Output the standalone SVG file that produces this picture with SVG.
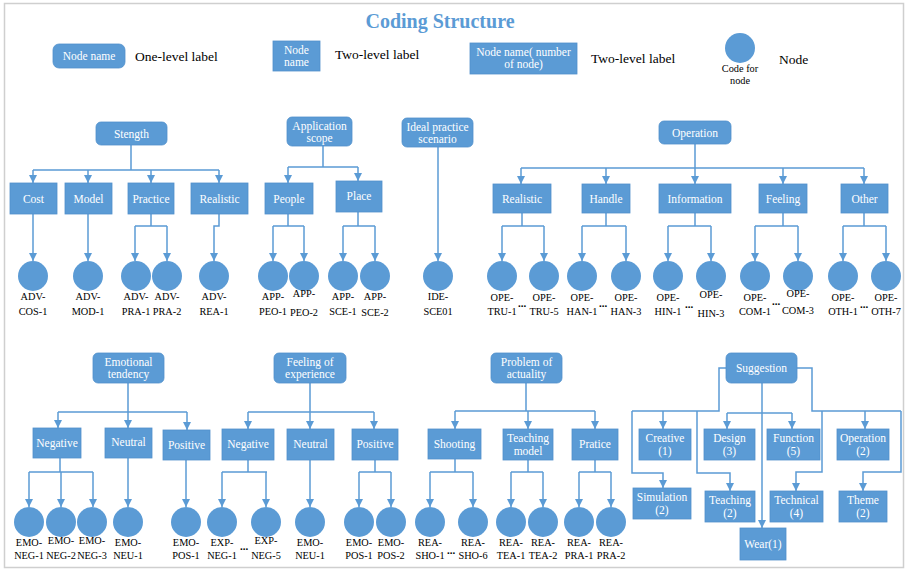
<svg xmlns="http://www.w3.org/2000/svg" width="906" height="573" viewBox="0 0 906 573" font-family="'Liberation Serif', serif">
<style>
.bx{fill:#5b9bd5;stroke:#5290cb;stroke-width:0.8}
.nd{fill:#5b9bd5}
.ln{fill:none;stroke:#5b9bd5;stroke-width:1.5}
.bt{font-family:'Liberation Serif',serif;font-size:11.5px;fill:#ffffff;text-anchor:middle}
.cl{font-family:'Liberation Serif',serif;font-size:10.3px;fill:#000000;text-anchor:middle}
.lg{font-family:'Liberation Serif',serif;font-size:13.5px;fill:#000000}
.dt{font-family:'Liberation Serif',serif;font-size:11px;font-weight:bold;fill:#000000;text-anchor:middle}
</style>
<defs>
<marker id="ah" markerWidth="8" markerHeight="8" refX="8" refY="4" orient="auto" markerUnits="userSpaceOnUse">
<path d="M0,0 L8,4 L0,8 z" fill="#5b9bd5"/>
</marker>
</defs>
<rect x="0" y="0" width="906" height="573" fill="#ffffff"/>
<rect x="4.5" y="3.5" width="899" height="564" fill="#ffffff" stroke="#cfcfcf" stroke-width="1.5"/>
<text x="440" y="28" font-family="'Liberation Serif', serif" font-size="20" font-weight="bold" fill="#5b9bd5" text-anchor="middle">Coding Structure</text>

<g id="legend">
<rect class="bx" x="53" y="44" width="72" height="24" rx="6"/>
<text class="bt" x="89" y="60">Node name</text>
<text class="lg" x="135" y="61">One-level label</text>
<rect class="bx" x="273" y="41" width="47" height="30"/>
<text class="bt" x="296.5" y="54">Node</text>
<text class="bt" x="296.5" y="66">name</text>
<text class="lg" x="335" y="59">Two-level label</text>
<rect class="bx" x="470" y="43" width="107" height="31"/>
<text class="bt" x="523.5" y="56">Node name( number</text>
<text class="bt" x="523.5" y="68">of node)</text>
<text class="lg" x="591" y="63">Two-level label</text>
<circle class="nd" cx="740" cy="48" r="15"/>
<text class="cl" x="740" y="72" font-size="10">Code for</text>
<text class="cl" x="740" y="84" font-size="10">node</text>
<text class="lg" x="779" y="64">Node</text>
</g>

<g id="connectors">
<path class="ln" d="M131,145 V170 M33,170 H219"/>
<path class="ln" d="M33,170 V183" marker-end="url(#ah)"/>
<path class="ln" d="M88,170 V183" marker-end="url(#ah)"/>
<path class="ln" d="M151,170 V183" marker-end="url(#ah)"/>
<path class="ln" d="M219,170 V183" marker-end="url(#ah)"/>
<path class="ln" d="M33,214 V261" marker-end="url(#ah)"/>
<path class="ln" d="M88,214 V261" marker-end="url(#ah)"/>
<path class="ln" d="M151,214 V226 M135,226 H167"/>
<path class="ln" d="M135,226 V261" marker-end="url(#ah)"/>
<path class="ln" d="M167,226 V261" marker-end="url(#ah)"/>
<path class="ln" d="M219,214 V226 H214 V261" marker-end="url(#ah)"/>
<path class="ln" d="M323,146 V167 M288,167 H358"/>
<path class="ln" d="M288,167 V183" marker-end="url(#ah)"/>
<path class="ln" d="M358,167 V181" marker-end="url(#ah)"/>
<path class="ln" d="M288,214 V226 M273,226 H304"/>
<path class="ln" d="M273,226 V261" marker-end="url(#ah)"/>
<path class="ln" d="M304,226 V261" marker-end="url(#ah)"/>
<path class="ln" d="M358,212 V226 M343,226 H375"/>
<path class="ln" d="M343,226 V261" marker-end="url(#ah)"/>
<path class="ln" d="M375,226 V261" marker-end="url(#ah)"/>
<path class="ln" d="M438,147 V261" marker-end="url(#ah)"/>
<path class="ln" d="M695,144 V168 M521,168 H864"/>
<path class="ln" d="M521,168 V184" marker-end="url(#ah)"/>
<path class="ln" d="M606,168 V184" marker-end="url(#ah)"/>
<path class="ln" d="M695,168 V184" marker-end="url(#ah)"/>
<path class="ln" d="M783,168 V184" marker-end="url(#ah)"/>
<path class="ln" d="M864,168 V184" marker-end="url(#ah)"/>
<path class="ln" d="M522,213 V226 M502,226 H544"/>
<path class="ln" d="M502,226 V261" marker-end="url(#ah)"/>
<path class="ln" d="M544,226 V261" marker-end="url(#ah)"/>
<path class="ln" d="M606,213 V226 M582,226 H626"/>
<path class="ln" d="M582,226 V261" marker-end="url(#ah)"/>
<path class="ln" d="M626,226 V261" marker-end="url(#ah)"/>
<path class="ln" d="M695,213 V226 M668,226 H711"/>
<path class="ln" d="M668,226 V261" marker-end="url(#ah)"/>
<path class="ln" d="M711,226 V261" marker-end="url(#ah)"/>
<path class="ln" d="M783,213 V226 M755,226 H798"/>
<path class="ln" d="M755,226 V261" marker-end="url(#ah)"/>
<path class="ln" d="M798,226 V261" marker-end="url(#ah)"/>
<path class="ln" d="M864,213 V226 M843,226 H886"/>
<path class="ln" d="M843,226 V261" marker-end="url(#ah)"/>
<path class="ln" d="M886,226 V261" marker-end="url(#ah)"/>
<path class="ln" d="M128,383 V412 M58,412 H187"/>
<path class="ln" d="M58,412 V428" marker-end="url(#ah)"/>
<path class="ln" d="M128,412 V428" marker-end="url(#ah)"/>
<path class="ln" d="M187,412 V430" marker-end="url(#ah)"/>
<path class="ln" d="M60,458 V472 M29,472 H93"/>
<path class="ln" d="M29,472 V507" marker-end="url(#ah)"/>
<path class="ln" d="M61,472 V507" marker-end="url(#ah)"/>
<path class="ln" d="M93,472 V507" marker-end="url(#ah)"/>
<path class="ln" d="M128,458 V507" marker-end="url(#ah)"/>
<path class="ln" d="M186,460 V507" marker-end="url(#ah)"/>
<path class="ln" d="M310,383 V412 M248,412 H374"/>
<path class="ln" d="M248,412 V429" marker-end="url(#ah)"/>
<path class="ln" d="M310,412 V429" marker-end="url(#ah)"/>
<path class="ln" d="M374,412 V429" marker-end="url(#ah)"/>
<path class="ln" d="M248,460 V472 M222,472 H267"/>
<path class="ln" d="M222,472 V507" marker-end="url(#ah)"/>
<path class="ln" d="M266,472 V507" marker-end="url(#ah)"/>
<path class="ln" d="M310,460 V507" marker-end="url(#ah)"/>
<path class="ln" d="M375,460 V472 M359,472 H391"/>
<path class="ln" d="M359,472 V507" marker-end="url(#ah)"/>
<path class="ln" d="M391,472 V507" marker-end="url(#ah)"/>
<path class="ln" d="M526,383 V411 M455,411 H595"/>
<path class="ln" d="M455,411 V429" marker-end="url(#ah)"/>
<path class="ln" d="M528,411 V429" marker-end="url(#ah)"/>
<path class="ln" d="M595,411 V429" marker-end="url(#ah)"/>
<path class="ln" d="M455,459 V472 M430,472 H473"/>
<path class="ln" d="M430,472 V507" marker-end="url(#ah)"/>
<path class="ln" d="M473,472 V507" marker-end="url(#ah)"/>
<path class="ln" d="M528,460 V472 M511,472 H543"/>
<path class="ln" d="M511,472 V507" marker-end="url(#ah)"/>
<path class="ln" d="M543,472 V507" marker-end="url(#ah)"/>
<path class="ln" d="M595,460 V472 M579,472 H611"/>
<path class="ln" d="M579,472 V507" marker-end="url(#ah)"/>
<path class="ln" d="M611,472 V507" marker-end="url(#ah)"/>
<path class="ln" d="M726,368 H719 V411 H632"/>
<path class="ln" d="M663,411 V429" marker-end="url(#ah)"/>
<path class="ln" d="M632,411 V473 H663 V488" marker-end="url(#ah)"/>
<path class="ln" d="M697,411 V473 H730 V491" marker-end="url(#ah)"/>
<path class="ln" d="M762,383 V528" marker-end="url(#ah)"/>
<path class="ln" d="M727,413 H792"/>
<path class="ln" d="M727,413 V429" marker-end="url(#ah)"/>
<path class="ln" d="M792,413 V429" marker-end="url(#ah)"/>
<path class="ln" d="M797,368 H812 V411 H901"/>
<path class="ln" d="M865,411 V429" marker-end="url(#ah)"/>
<path class="ln" d="M901,411 V472 H863 V491" marker-end="url(#ah)"/>
<path class="ln" d="M822,411 V472 H796 V491" marker-end="url(#ah)"/>
</g>

<g id="strength"><rect class="bx" x="96" y="122" width="71" height="23" rx="5"/><text class="bt" x="131.5" y="138">Stength</text></g>
<g id="application-scope"><rect class="bx" x="287" y="117" width="65" height="29" rx="5"/><text class="bt" x="319.5" y="130">Application</text><text class="bt" x="319.5" y="142">scope</text></g>
<g id="ideal-practice-scenario"><rect class="bx" x="402" y="118" width="71" height="29" rx="5"/><text class="bt" x="437.5" y="131">Ideal practice</text><text class="bt" x="437.5" y="143">scenario</text></g>
<g id="operation"><rect class="bx" x="659" y="121" width="72" height="23" rx="5"/><text class="bt" x="695" y="137">Operation</text></g>
<g id="emotional-tendency"><rect class="bx" x="93" y="353" width="71" height="30" rx="5"/><text class="bt" x="128.5" y="366">Emotional</text><text class="bt" x="128.5" y="378">tendency</text></g>
<g id="feeling-of-experience"><rect class="bx" x="274" y="353" width="72" height="30" rx="5"/><text class="bt" x="310" y="366">Feeling of</text><text class="bt" x="310" y="378">experience</text></g>
<g id="problem-of-actuality"><rect class="bx" x="491" y="353" width="71" height="30" rx="5"/><text class="bt" x="526.5" y="366">Problem of</text><text class="bt" x="526.5" y="378">actuality</text></g>
<g id="suggestion"><rect class="bx" x="726" y="353" width="71" height="30" rx="5"/><text class="bt" x="761.5" y="372">Suggestion</text></g>

<g id="cost"><rect class="bx" x="10" y="183" width="47" height="31"/><text class="bt" x="33.5" y="203">Cost</text></g>
<g id="model"><rect class="bx" x="65" y="183" width="47" height="31"/><text class="bt" x="88.5" y="203">Model</text></g>
<g id="practice"><rect class="bx" x="128" y="183" width="46" height="31"/><text class="bt" x="151" y="203">Practice</text></g>
<g id="realistic-adv"><rect class="bx" x="191" y="183" width="57" height="31"/><text class="bt" x="219.5" y="203">Realistic</text></g>
<g id="people"><rect class="bx" x="265" y="183" width="48" height="31"/><text class="bt" x="289" y="203">People</text></g>
<g id="place"><rect class="bx" x="336" y="181" width="46" height="31"/><text class="bt" x="359" y="200">Place</text></g>
<g id="realistic-ope"><rect class="bx" x="493" y="184" width="58" height="29"/><text class="bt" x="522" y="203">Realistic</text></g>
<g id="handle"><rect class="bx" x="582" y="184" width="48" height="29"/><text class="bt" x="606" y="203">Handle</text></g>
<g id="information"><rect class="bx" x="659" y="184" width="72" height="29"/><text class="bt" x="695" y="203">Information</text></g>
<g id="feeling"><rect class="bx" x="759" y="184" width="48" height="29"/><text class="bt" x="783" y="203">Feeling</text></g>
<g id="other"><rect class="bx" x="841" y="184" width="47" height="29"/><text class="bt" x="864.5" y="203">Other</text></g>

<g id="emo-negative"><rect class="bx" x="33" y="428" width="48" height="30"/><text class="bt" x="57" y="447">Negative</text></g>
<g id="emo-neutral"><rect class="bx" x="105" y="428" width="47" height="30"/><text class="bt" x="128.5" y="446">Neutral</text></g>
<g id="emo-positive"><rect class="bx" x="163" y="430" width="47" height="30"/><text class="bt" x="186.5" y="449">Positive</text></g>
<g id="exp-negative"><rect class="bx" x="222" y="429" width="52" height="31"/><text class="bt" x="248" y="448">Negative</text></g>
<g id="exp-neutral"><rect class="bx" x="287" y="429" width="47" height="31"/><text class="bt" x="310.5" y="448">Neutral</text></g>
<g id="exp-positive"><rect class="bx" x="352" y="429" width="46" height="31"/><text class="bt" x="375" y="448">Positive</text></g>
<g id="shooting"><rect class="bx" x="428" y="429" width="53" height="30"/><text class="bt" x="454.5" y="448">Shooting</text></g>
<g id="teaching-model"><rect class="bx" x="503" y="429" width="50" height="31"/><text class="bt" x="528" y="442">Teaching</text><text class="bt" x="528" y="455">model</text></g>
<g id="pratice"><rect class="bx" x="572" y="429" width="46" height="31"/><text class="bt" x="595" y="448">Pratice</text></g>

<g id="creative"><rect class="bx" x="639" y="429" width="52" height="31"/><text class="bt" x="665" y="442">Creative</text><text class="bt" x="665" y="455">(1)</text></g>
<g id="design"><rect class="bx" x="704" y="429" width="51" height="31"/><text class="bt" x="729.5" y="442">Design</text><text class="bt" x="729.5" y="455">(3)</text></g>
<g id="function"><rect class="bx" x="767" y="429" width="53" height="31"/><text class="bt" x="793.5" y="442">Function</text><text class="bt" x="793.5" y="455">(5)</text></g>
<g id="operation-sug"><rect class="bx" x="837" y="429" width="52" height="31"/><text class="bt" x="863" y="442">Operation</text><text class="bt" x="863" y="455">(2)</text></g>
<g id="simulation"><rect class="bx" x="633" y="488" width="58" height="31"/><text class="bt" x="662" y="501">Simulation</text><text class="bt" x="662" y="514">(2)</text></g>
<g id="teaching"><rect class="bx" x="705" y="491" width="50" height="31"/><text class="bt" x="730" y="504">Teaching</text><text class="bt" x="730" y="517">(2)</text></g>
<g id="technical"><rect class="bx" x="770" y="491" width="53" height="31"/><text class="bt" x="796.5" y="504">Technical</text><text class="bt" x="796.5" y="517">(4)</text></g>
<g id="theme"><rect class="bx" x="839" y="491" width="48" height="31"/><text class="bt" x="863" y="504">Theme</text><text class="bt" x="863" y="517">(2)</text></g>
<g id="wear"><rect class="bx" x="740" y="528" width="46" height="32"/><text class="bt" x="763" y="548">Wear(1)</text></g>

<g id="adv-cos-1"><circle class="nd" cx="33" cy="276" r="15"/><text class="cl" x="33" y="300">ADV-</text><text class="cl" x="33" y="315">COS-1</text></g>
<g id="adv-mod-1"><circle class="nd" cx="88" cy="276" r="15"/><text class="cl" x="88" y="300">ADV-</text><text class="cl" x="88" y="315">MOD-1</text></g>
<g id="adv-pra-1"><circle class="nd" cx="136" cy="276" r="15"/><text class="cl" x="136" y="300">ADV-</text><text class="cl" x="136" y="315">PRA-1</text></g>
<g id="adv-pra-2"><circle class="nd" cx="167" cy="276" r="15"/><text class="cl" x="167" y="300">ADV-</text><text class="cl" x="167" y="315">PRA-2</text></g>
<g id="adv-rea-1"><circle class="nd" cx="214" cy="276" r="15"/><text class="cl" x="214" y="300">ADV-</text><text class="cl" x="214" y="315">REA-1</text></g>
<g id="app-peo-1"><circle class="nd" cx="273" cy="276" r="15"/><text class="cl" x="273" y="300">APP-</text><text class="cl" x="273" y="315">PEO-1</text></g>
<g id="app-peo-2"><circle class="nd" cx="304" cy="276" r="15"/><text class="cl" x="304" y="297">APP-</text><text class="cl" x="304" y="316">PEO-2</text></g>
<g id="app-sce-1"><circle class="nd" cx="343" cy="276" r="15"/><text class="cl" x="343" y="300">APP-</text><text class="cl" x="343" y="315">SCE-1</text></g>
<g id="app-sce-2"><circle class="nd" cx="375" cy="276" r="15"/><text class="cl" x="375" y="300">APP-</text><text class="cl" x="375" y="316">SCE-2</text></g>
<g id="ide-sce01"><circle class="nd" cx="438" cy="276" r="15"/><text class="cl" x="438" y="300">IDE-</text><text class="cl" x="438" y="315">SCE01</text></g>
<g id="ope-tru-1"><circle class="nd" cx="502" cy="276" r="15"/><text class="cl" x="502" y="301">OPE-</text><text class="cl" x="502" y="315">TRU-1</text></g>
<g id="ope-tru-5"><circle class="nd" cx="544" cy="276" r="15"/><text class="cl" x="544" y="301">OPE-</text><text class="cl" x="544" y="315">TRU-5</text></g>
<g id="ope-han-1"><circle class="nd" cx="582" cy="276" r="15"/><text class="cl" x="582" y="301">OPE-</text><text class="cl" x="582" y="315">HAN-1</text></g>
<g id="ope-han-3"><circle class="nd" cx="626" cy="276" r="15"/><text class="cl" x="626" y="301">OPE-</text><text class="cl" x="626" y="315">HAN-3</text></g>
<g id="ope-hin-1"><circle class="nd" cx="668" cy="276" r="15"/><text class="cl" x="668" y="301">OPE-</text><text class="cl" x="668" y="315">HIN-1</text></g>
<g id="ope-hin-3"><circle class="nd" cx="711" cy="276" r="15"/><text class="cl" x="711" y="298">OPE-</text><text class="cl" x="711" y="317">HIN-3</text></g>
<g id="ope-com-1"><circle class="nd" cx="755" cy="276" r="15"/><text class="cl" x="755" y="301">OPE-</text><text class="cl" x="755" y="315">COM-1</text></g>
<g id="ope-com-3"><circle class="nd" cx="798" cy="276" r="15"/><text class="cl" x="798" y="297">OPE-</text><text class="cl" x="798" y="314">COM-3</text></g>
<g id="ope-oth-1"><circle class="nd" cx="843" cy="276" r="15"/><text class="cl" x="843" y="301">OPE-</text><text class="cl" x="843" y="315">OTH-1</text></g>
<g id="ope-oth-7"><circle class="nd" cx="886" cy="276" r="15"/><text class="cl" x="886" y="301">OPE-</text><text class="cl" x="886" y="315">OTH-7</text></g>

<g id="emo-neg-1"><circle class="nd" cx="29" cy="522" r="15"/><text class="cl" x="29" y="546">EMO-</text><text class="cl" x="29" y="559">NEG-1</text></g>
<g id="emo-neg-2"><circle class="nd" cx="61" cy="522" r="15"/><text class="cl" x="61" y="544">EMO-</text><text class="cl" x="61" y="559">NEG-2</text></g>
<g id="emo-neg-3"><circle class="nd" cx="92" cy="522" r="15"/><text class="cl" x="92" y="544">EMO-</text><text class="cl" x="92" y="559">NEG-3</text></g>
<g id="emo-neu-1"><circle class="nd" cx="128" cy="522" r="15"/><text class="cl" x="128" y="546">EMO-</text><text class="cl" x="128" y="559">NEU-1</text></g>
<g id="emo-pos-1"><circle class="nd" cx="186" cy="522" r="15"/><text class="cl" x="186" y="546">EMO-</text><text class="cl" x="186" y="559">POS-1</text></g>
<g id="exp-neg-1"><circle class="nd" cx="222" cy="522" r="15"/><text class="cl" x="222" y="546">EXP-</text><text class="cl" x="222" y="559">NEG-1</text></g>
<g id="exp-neg-5"><circle class="nd" cx="266" cy="522" r="15"/><text class="cl" x="266" y="544">EXP-</text><text class="cl" x="266" y="559">NEG-5</text></g>
<g id="emo-neu-1b"><circle class="nd" cx="310" cy="522" r="15"/><text class="cl" x="310" y="546">EMO-</text><text class="cl" x="310" y="559">NEU-1</text></g>
<g id="emo-pos-1b"><circle class="nd" cx="359" cy="522" r="15"/><text class="cl" x="359" y="546">EMO-</text><text class="cl" x="359" y="559">POS-1</text></g>
<g id="emo-pos-2"><circle class="nd" cx="391" cy="522" r="15"/><text class="cl" x="391" y="546">EMO-</text><text class="cl" x="391" y="559">POS-2</text></g>
<g id="rea-sho-1"><circle class="nd" cx="430" cy="522" r="15"/><text class="cl" x="430" y="546">REA-</text><text class="cl" x="430" y="559">SHO-1</text></g>
<g id="rea-sho-6"><circle class="nd" cx="473" cy="522" r="15"/><text class="cl" x="473" y="546">REA-</text><text class="cl" x="473" y="559">SHO-6</text></g>
<g id="rea-tea-1"><circle class="nd" cx="511" cy="522" r="15"/><text class="cl" x="511" y="546">REA-</text><text class="cl" x="511" y="559">TEA-1</text></g>
<g id="rea-tea-2"><circle class="nd" cx="543" cy="522" r="15"/><text class="cl" x="543" y="546">REA-</text><text class="cl" x="543" y="559">TEA-2</text></g>
<g id="rea-pra-1"><circle class="nd" cx="579" cy="522" r="15"/><text class="cl" x="579" y="546">REA-</text><text class="cl" x="579" y="559">PRA-1</text></g>
<g id="rea-pra-2"><circle class="nd" cx="611" cy="522" r="15"/><text class="cl" x="611" y="546">REA-</text><text class="cl" x="611" y="559">PRA-2</text></g>

<g id="ellipses">
<text class="dt" x="522" y="307">...</text>
<text class="dt" x="603" y="307">...</text>
<text class="dt" x="689" y="308">...</text>
<text class="dt" x="776" y="305">...</text>
<text class="dt" x="864" y="308">...</text>
<text class="dt" x="244" y="550">...</text>
<text class="dt" x="451" y="554">...</text>
</g>
</svg>
